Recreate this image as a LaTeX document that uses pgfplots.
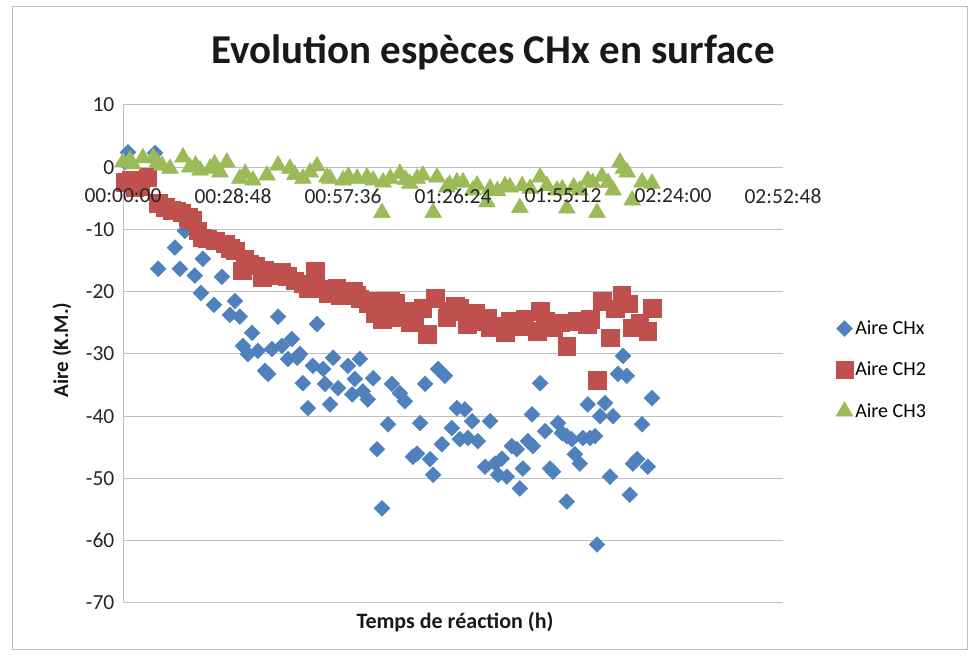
\documentclass[border=0pt]{standalone}
\usepackage{pgfplots}
\pgfplotsset{compat=1.18}
\usepackage{fontspec}
\setmainfont{Carlito}
\definecolor{exblue}{HTML}{4F81BD}
\definecolor{exred}{HTML}{C0504D}
\definecolor{exgreen}{HTML}{9BBB59}
\definecolor{gridgray}{HTML}{BFBFBF}
\pgfplotsset{base/.style={
  at={(123pt,55pt)}, anchor=south west,
  scale only axis, width=660pt, height=498pt,
  xmin=0, xmax=172.8, ymin=-70, ymax=10,
  axis x line=middle, axis y line=left,
  hide obscured x ticks=false, hide obscured y ticks=false,
  xtick={0,28.8,57.6,86.4,115.2,144,172.8},
  ytick={-70,-60,...,10},
  tick style={draw=none},
  tick label style={font=\fontsize{21.5}{25}\selectfont, text=black!85},
  /pgf/number format/assume math mode=true,
  xticklabel style={yshift=-16pt},
  yticklabel style={xshift=-3pt},
  clip=false,
}}
\begin{document}
\begin{tikzpicture}
\useasboundingbox (0,0) rectangle (974pt,658pt);
\draw[gridgray, line width=1pt] (12pt,8pt) rectangle (967pt,651pt);
\begin{axis}[
  base,
  axis line style={-, gridgray, line width=1pt},
  xticklabels={},
  ymajorgrids, grid style={gridgray, line width=1pt},
  legend style={at={(1.075,0.468)}, anchor=west, draw=none, fill=none,
    font=\fontsize{20}{24}\selectfont, row sep=22pt},
  legend cell align=left,
]
% Aire CHx
\addplot[only marks, mark=square*, mark size=5.6pt, mark options={rotate=45, fill=exblue, draw=exblue}] coordinates {
(0.5,0.8)(1.3,2.4)(8.4,2.3)(9.2,-16.3)(13.6,-12.9)(14.9,-16.3)(16.2,-10.2)(18.8,-17.4)(20.9,-14.7)(25.9,-17.6)
(20.4,-20.2)(23.8,-22.1)(29.3,-21.5)(28.0,-23.7)(30.6,-24.0)(40.6,-24.0)(33.8,-26.6)(50.8,-25.2)(31.4,-28.7)(32.7,-30.0)
(35.3,-29.5)(39.0,-29.2)(41.6,-28.7)(44.2,-27.6)(43.2,-30.8)(45.6,-30.6)(46.3,-30.0)(38.0,-33.2)(37.2,-32.7)(47.1,-34.7)
(49.7,-31.9)(52.4,-32.4)(55.0,-30.6)(52.9,-34.8)(56.3,-35.5)(58.9,-31.9)(62.0,-30.8)(60.7,-34.0)(60.0,-36.5)(62.8,-36.0)
(64.1,-37.3)(65.5,-33.9)(48.4,-38.7)(54.2,-38.1)(69.4,-41.3)(66.5,-45.3)(67.8,-54.8)(70.4,-34.8)(72.5,-36.3)(73.8,-37.6)
(75.9,-46.5)(77.0,-46.0)(77.8,-41.1)(79.1,-34.8)(80.4,-46.9)(81.2,-49.4)(82.5,-32.4)(84.3,-33.5)(83.5,-44.5)(86.1,-41.9)
(87.4,-38.7)(89.5,-38.9)(88.2,-43.7)(90.3,-43.5)(91.4,-40.8)(92.9,-44.0)(96.1,-40.8)(94.8,-48.1)(97.4,-47.6)(98.2,-49.4)
(100.5,-49.7)(99.2,-46.8)(101.8,-44.8)(103.1,-45.3)(103.9,-51.6)(104.7,-48.4)(106.0,-44.0)(107.3,-44.8)(107.1,-39.7)(109.2,-34.7)
(110.5,-42.4)(111.8,-48.4)(112.6,-48.9)(113.9,-41.1)(114.9,-42.7)(116.2,-43.2)(117.5,-43.7)(118.3,-46.1)(119.6,-47.6)(116.2,-53.7)
(120.4,-43.5)(122.3,-43.5)(123.6,-43.2)(121.7,-38.1)(124.1,-60.6)(124.9,-40.0)(126.2,-37.9)(128.3,-40.0)(127.5,-49.7)(129.6,-33.2)
(131.9,-33.5)(130.9,-30.3)(132.7,-52.6)(134.6,-46.9)(133.5,-47.6)(135.9,-41.3)(137.4,-48.1)(138.5,-37.1)
};
\addlegendentry{Aire CHx}
% Aire CH2
\addplot[only marks, mark=square*, mark size=8.8pt, mark options={fill=exred, draw=exred}] coordinates {
(0.5,-2.4)(2.0,-2.0)(3.1,-3.2)(4.5,-3.0)(6.5,-1.6)(9.2,-5.8)(11.0,-6.4)(12.8,-6.9)(14.0,-7.0)(15.4,-7.3)(17.0,-8.0)(18.1,-8.5)(19.6,-10.2)(20.7,-11.3)(22.0,-11.5)(24.1,-11.8)
(26.7,-12.3)(28.0,-13.0)(29.3,-13.4)(31.9,-14.7)(31.2,-16.6)(33.0,-15.5)(34.6,-15.8)(36.4,-17.7)(37.0,-16.5)(38.0,-17.1)(40.6,-17.4)(41.6,-16.9)(43.0,-17.5)(45.0,-18.2)
(47.0,-18.7)(48.4,-19.4)(49.5,-19.0)(50.3,-16.6)(52.0,-19.5)(53.7,-20.2)(55.0,-20.0)(56.0,-19.4)(56.8,-20.6)(58.9,-20.6)(60.2,-19.8)(61.0,-20.5)(62.0,-21.1)(64.1,-21.9)
(65.2,-21.5)(66.0,-23.5)(67.8,-24.4)(68.1,-23.1)(69.9,-21.5)(70.4,-24.2)(71.2,-21.8)(72.0,-24.2)(72.5,-23.1)(75.1,-25.0)
(75.9,-23.1)(76.4,-24.7)(78.5,-22.6)(79.6,-26.8)(81.7,-21.0)(84.8,-24.2)(85.1,-23.1)(86.9,-22.3)(88.2,-22.6)(90.1,-25.2)
(92.2,-23.4)(93.5,-24.7)(95.3,-24.2)(96.1,-25.8)(98.0,-25.5)(100.0,-26.6)(101.3,-24.7)(103.9,-25.5)(105.2,-24.4)(108.4,-26.3)(109.2,-23.1)
(110.5,-24.7)(112.6,-25.8)(114.4,-25.0)(116.2,-28.7)(118.9,-24.7)(121.5,-25.2)(122.3,-24.4)(124.1,-34.2)(125.4,-21.5)(127.5,-27.4)
(128.8,-22.7)(130.6,-20.6)(132.2,-21.9)(133.3,-25.8)(135.3,-25.0)(137.4,-26.3)(138.5,-22.6)
};
\addlegendentry{Aire CH2}
% Aire CH3
\addplot[only marks, mark=triangle*, mark size=9.8pt, mark options={fill=exgreen, draw=exgreen}] coordinates {
(0.0,0.8)(1.8,1.1)(2.5,0.5)(5.2,1.5)(7.9,1.5)(9.0,0.8)(10.2,0.3)(12.3,-0.2)(15.7,1.6)(17.5,0.0)(19.0,0.3)(20.2,-0.5)(22.8,-0.2)
(24.0,0.5)(25.4,-0.8)(27.2,0.8)(30.6,-1.8)(32.0,-1.0)(34.0,-2.1)(37.7,-1.3)(40.6,0.3)(43.7,-0.2)(45.0,-1.2)(47.1,-1.8)(49.0,-0.8)(50.8,0.2)(53.4,-1.6)
(54.2,-1.8)(57.6,-2.1)(59.0,-1.5)(61.3,-1.8)(63.9,-1.6)(65.5,-2.1)(68.1,-2.4)(67.8,-7.3)(70.0,-1.8)(72.5,-1.0)(74.0,-2.0)(75.1,-2.6)(77.0,-1.8)(78.5,-1.3)
(82.2,-1.6)(81.2,-7.3)(84.8,-3.2)(85.5,-2.8)(87.4,-2.4)(89.0,-2.4)(91.6,-3.7)(92.7,-2.9)(95.3,-5.6)(96.1,-3.4)(98.0,-3.8)(100.0,-3.0)(101.3,-3.2)
(103.9,-6.5)(104.5,-3.0)(106.6,-3.4)(109.2,-1.6)(111.0,-3.0)(113.6,-3.7)(115.0,-3.5)(116.2,-6.6)(118.0,-3.2)(119.6,-3.7)(121.7,-2.1)(123.0,-2.5)(124.1,-7.3)(125.4,-1.5)(127.0,-2.5)(128.3,-3.7)
(130.1,0.8)(131.0,-0.2)(132.0,-0.8)(133.3,-5.3)(135.9,-2.4)(138.5,-2.6)
};
\addlegendentry{Aire CH3}
\end{axis}
\begin{axis}[
  base,
  axis line style={draw=none},
  xticklabels={00:00:00,00:28:48,00:57:36,01:26:24,01:55:12,02:24:00,02:52:48},
  yticklabels={},
]
\end{axis}
\node[font=\fontsize{41}{46}\selectfont\bfseries, text=black!90] at (493pt,606pt) {Evolution espèces CHx en surface};
\node[font=\fontsize{21}{25}\selectfont\bfseries, rotate=90, text=black!90] at (62pt,308pt) {Aire (K.M.)};
\node[font=\fontsize{22}{26}\selectfont\bfseries, text=black!90] at (455pt,36pt) {Temps de réaction (h)};
\end{tikzpicture}
\end{document}
